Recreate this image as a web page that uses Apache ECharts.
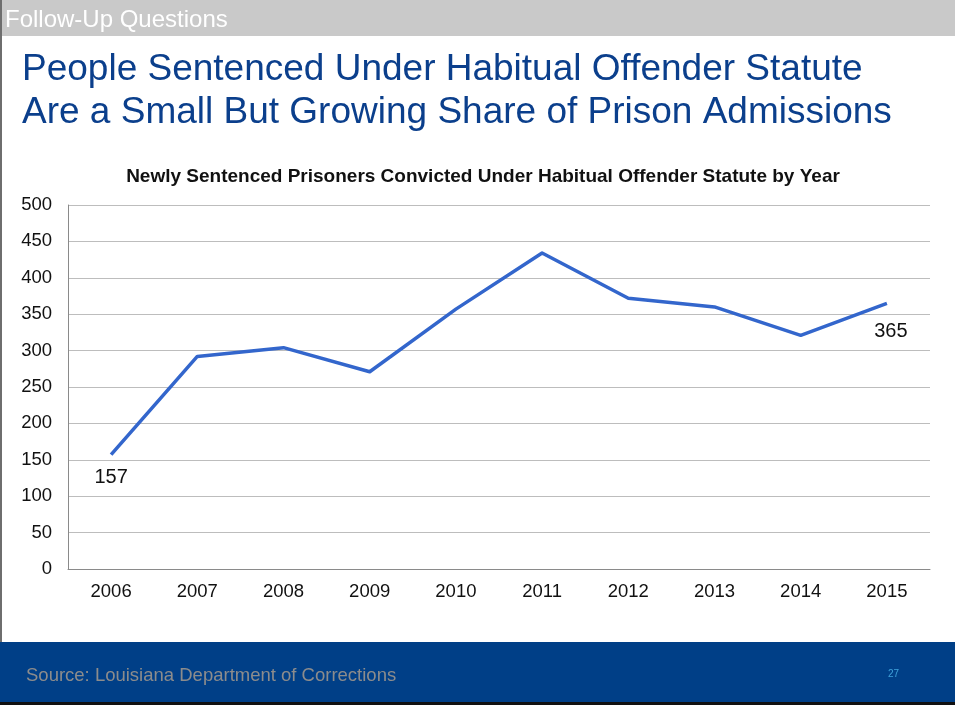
<!DOCTYPE html>
<html>
<head>
<meta charset="utf-8">
<script src="https://cdn.jsdelivr.net/npm/echarts@6/dist/echarts.min.js"></script>
<style>
  html, body { margin: 0; padding: 0; background: #ffffff; }
  #chart { width: 955px; height: 705px; }
</style>
</head>
<body>
<div id="chart"></div>
<script>
// Years on the category axis
const years = ['2006', '2007', '2008', '2009', '2010', '2011', '2012', '2013', '2014', '2015'];
// Newly sentenced prisoners convicted under the habitual offender statute
const admissions = [157, 292, 304, 271, 357, 434, 372, 360, 321, 365];
// Value axis ticks
const yTicks = [0, 50, 100, 150, 200, 250, 300, 350, 400, 450, 500];
// Only the first and last points carry a value label
const labelledIdx = [0, years.length - 1];

const FONT = '"Liberation Sans", Arial, sans-serif';

const chart = echarts.init(document.getElementById('chart'), null, { renderer: 'canvas' });

chart.setOption({
  backgroundColor: '#ffffff',
  animation: false,
  graphic: [
    // top header band
    { type: 'rect', shape: { x: 0, y: 0, width: 955, height: 36 }, style: { fill: '#C9C9C9' }, z: 1 },
    { type: 'text', x: 5, y: 20, style: { text: 'Follow-Up Questions', fill: '#ffffff', font: '24px ' + FONT, verticalAlign: 'middle' }, z: 2 },
    // left slide edge
    { type: 'rect', shape: { x: 0, y: 0, width: 2, height: 642 }, style: { fill: '#6E6E6E' }, z: 3 },
    // slide heading
    { type: 'text', x: 22, y: 70, style: { text: 'People Sentenced Under Habitual Offender Statute', fill: '#0B3F8C', font: '37px ' + FONT, verticalAlign: 'middle' }, z: 2 },
    { type: 'text', x: 22, y: 113, style: { text: 'Are a Small But Growing Share of Prison Admissions', fill: '#0B3F8C', font: '37px ' + FONT, verticalAlign: 'middle' }, z: 2 },
    // footer band
    { type: 'rect', shape: { x: 0, y: 642, width: 955, height: 63 }, style: { fill: '#003F87' }, z: 1 },
    { type: 'rect', shape: { x: 0, y: 702, width: 955, height: 3 }, style: { fill: '#111111' }, z: 2 },
    { type: 'text', x: 26, y: 676, style: { text: 'Source: Louisiana Department of Corrections', fill: '#8C8C8C', font: '18.5px ' + FONT, verticalAlign: 'middle' }, z: 2 },
    { type: 'text', x: 888, y: 674, style: { text: '27', fill: '#3FA2DB', font: '10px ' + FONT, verticalAlign: 'middle' }, z: 2 }
  ],
  title: {
    text: 'Newly Sentenced Prisoners Convicted Under Habitual Offender Statute by Year',
    left: 478,
    textAlign: 'center',
    top: 162,
    textStyle: { fontFamily: FONT, fontSize: 19, fontWeight: 'bold', color: '#111111' }
  },
  grid: { left: 68, right: 25, top: 205, bottom: 136, containLabel: false },
  xAxis: {
    type: 'category',
    data: years,
    boundaryGap: true,
    axisLine: { show: true, lineStyle: { color: '#8A8A8A', width: 1 } },
    axisTick: { show: false },
    axisLabel: { color: '#111111', fontFamily: FONT, fontSize: 18.5, margin: 13 },
    splitLine: { show: false }
  },
  yAxis: {
    type: 'value',
    min: yTicks[0],
    max: yTicks[yTicks.length - 1],
    interval: yTicks[1] - yTicks[0],
    axisLine: { show: true, lineStyle: { color: '#8A8A8A', width: 1 } },
    axisTick: { show: false },
    axisLabel: { color: '#111111', fontFamily: FONT, fontSize: 18.5, margin: 16, verticalAlign: 'middle', padding: [2, 0, 0, 0] },
    splitLine: { show: true, lineStyle: { color: '#BDBDBD', width: 1 } }
  },
  series: [{
    type: 'line',
    data: admissions.map((v, i) => ({
      value: v,
      label: {
        show: labelledIdx.includes(i),
        position: 'bottom',
        distance: i === 0 ? 13 : 18,
        offset: [i === 0 ? 0 : 4, 0],
        color: '#111111',
        fontFamily: FONT,
        fontSize: 20
      }
    })),
    symbol: 'circle',
    symbolSize: 0,
    showSymbol: true,
    lineStyle: { color: '#3366CC', width: 3.5, join: 'round' },
    itemStyle: { color: '#3366CC' },
    z: 5
  }]
});
</script>
</body>
</html>
